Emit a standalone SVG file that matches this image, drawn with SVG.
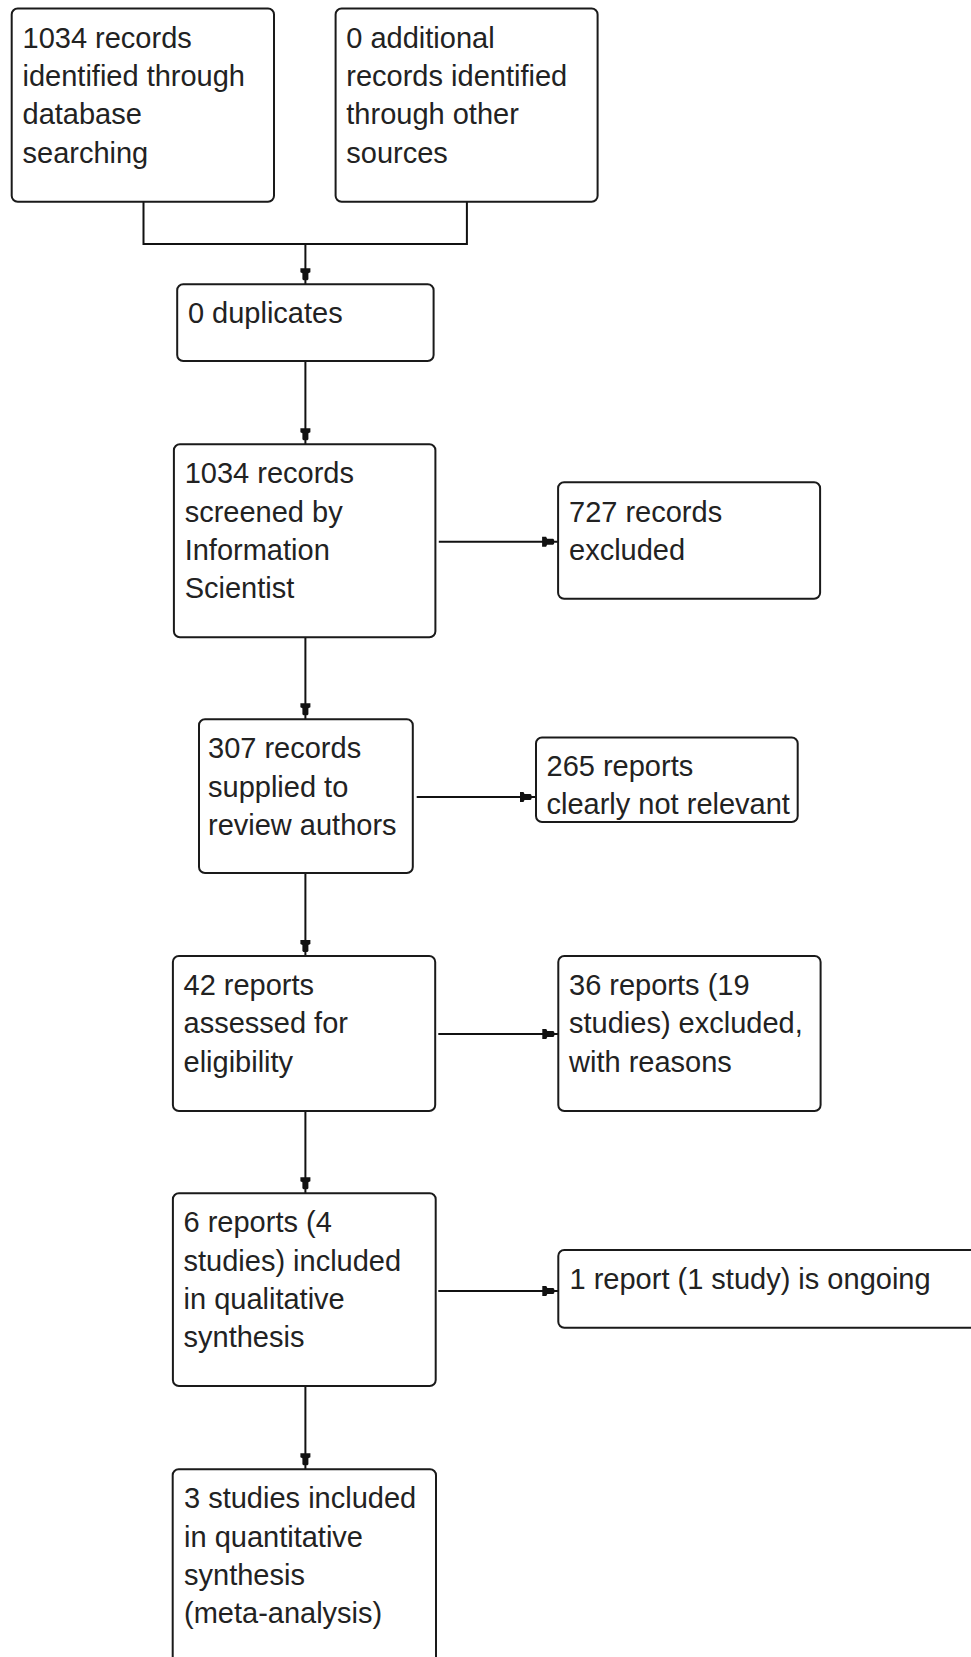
<svg xmlns="http://www.w3.org/2000/svg" width="971" height="1657" viewBox="0 0 971 1657">
<style>
.box{fill:#ffffff;stroke:#1a1a1a;stroke-width:2}
.t{font-family:"Liberation Sans",Arial,sans-serif;font-size:29px;fill:#222222}
.c{fill:none;stroke:#111111;stroke-width:2}
</style>
<defs>
<marker id="ah" markerUnits="userSpaceOnUse" markerWidth="18" markerHeight="12" viewBox="0 -6 18 12" refX="16" refY="0" orient="auto">
<path d="M0,-5 L4,-5 L5,-3 L11,-3 L12,-2 L12,2 L11,3 L5,3 L4,5 L0,5 Z" fill="#111111"/>
</marker>
</defs>
<rect width="971" height="1657" fill="#ffffff"/>
<g id="connectors">
<path class="c" d="M143.5,201.7 V244 H466.9 V201.7"/>
<path class="c" d="M305.4,244 V284.3" marker-end="url(#ah)"/>
<path class="c" d="M305.4,361 V444.3" marker-end="url(#ah)"/>
<path class="c" d="M438.8,541.7 H558.1" marker-end="url(#ah)"/>
<path class="c" d="M305.4,637.3 V719.3" marker-end="url(#ah)"/>
<path class="c" d="M416.7,797 H535.5" marker-end="url(#ah)"/>
<path class="c" d="M305.4,873 V956" marker-end="url(#ah)"/>
<path class="c" d="M438.3,1034 H558.3" marker-end="url(#ah)"/>
<path class="c" d="M305.4,1111 V1193.3" marker-end="url(#ah)"/>
<path class="c" d="M438.3,1291 H558.3" marker-end="url(#ah)"/>
<path class="c" d="M305.4,1386 V1469.3" marker-end="url(#ah)"/>
</g>
<g id="n1">
<rect class="box" x="11.7" y="8.5" width="262.3" height="193.2" rx="6"/>
<text class="t" x="22.5" y="47.8">1034 records</text>
<text class="t" x="22.5" y="86.1">identified through</text>
<text class="t" x="22.5" y="124.4">database</text>
<text class="t" x="22.5" y="162.7">searching</text>
</g>
<g id="n2">
<rect class="box" x="335.6" y="8.5" width="262" height="193.2" rx="6"/>
<text class="t" x="346.3" y="47.8">0 additional</text>
<text class="t" x="346.3" y="86.1">records identified</text>
<text class="t" x="346.3" y="124.4">through other</text>
<text class="t" x="346.3" y="162.7">sources</text>
</g>
<g id="n3">
<rect class="box" x="177.2" y="284.3" width="256.4" height="76.7" rx="6"/>
<text class="t" x="187.9" y="323.3">0 duplicates</text>
</g>
<g id="n4">
<rect class="box" x="173.9" y="444.3" width="261.5" height="193" rx="6"/>
<text class="t" x="184.7" y="483.3">1034 records</text>
<text class="t" x="184.7" y="521.6">screened by</text>
<text class="t" x="184.7" y="559.9">Information</text>
<text class="t" x="184.7" y="598.2">Scientist</text>
</g>
<g id="n5">
<rect class="box" x="558.1" y="482.3" width="262" height="116.4" rx="6"/>
<text class="t" x="569" y="521.5">727 records</text>
<text class="t" x="569" y="559.8">excluded</text>
</g>
<g id="n6">
<rect class="box" x="199" y="719.3" width="213.8" height="153.7" rx="6"/>
<text class="t" x="208" y="758.3">307 records</text>
<text class="t" x="208" y="796.6">supplied to</text>
<text class="t" x="208" y="834.9">review authors</text>
</g>
<g id="n7">
<rect class="box" x="536" y="737.5" width="261.7" height="84.5" rx="6"/>
<text class="t" x="546.5" y="775.5">265 reports</text>
<text class="t" x="546.5" y="814">clearly not relevant</text>
</g>
<g id="n8">
<rect class="box" x="172.9" y="956" width="262.3" height="155" rx="6"/>
<text class="t" x="183.5" y="995">42 reports</text>
<text class="t" x="183.5" y="1033.3">assessed for</text>
<text class="t" x="183.5" y="1071.6">eligibility</text>
</g>
<g id="n9">
<rect class="box" x="558.3" y="956" width="262.3" height="155" rx="6"/>
<text class="t" x="569" y="995">36 reports (19</text>
<text class="t" x="569" y="1033.3">studies) excluded,</text>
<text class="t" x="569" y="1071.6">with reasons</text>
</g>
<g id="n10">
<rect class="box" x="172.9" y="1193.3" width="262.8" height="192.7" rx="6"/>
<text class="t" x="183.5" y="1232.3">6 reports (4</text>
<text class="t" x="183.5" y="1270.6">studies) included</text>
<text class="t" x="183.5" y="1308.9">in qualitative</text>
<text class="t" x="183.5" y="1347.2">synthesis</text>
</g>
<g id="n11">
<rect class="box" x="558.3" y="1250" width="430" height="77.7" rx="6"/>
<text class="t" x="569.5" y="1288.5">1 report (1 study) is ongoing</text>
</g>
<g id="n12">
<rect class="box" x="172.7" y="1469.3" width="263.3" height="230" rx="6"/>
<text class="t" x="184" y="1508.3">3 studies included</text>
<text class="t" x="184" y="1546.6">in quantitative</text>
<text class="t" x="184" y="1584.9">synthesis</text>
<text class="t" x="184" y="1623.2">(meta-analysis)</text>
</g>
</svg>
